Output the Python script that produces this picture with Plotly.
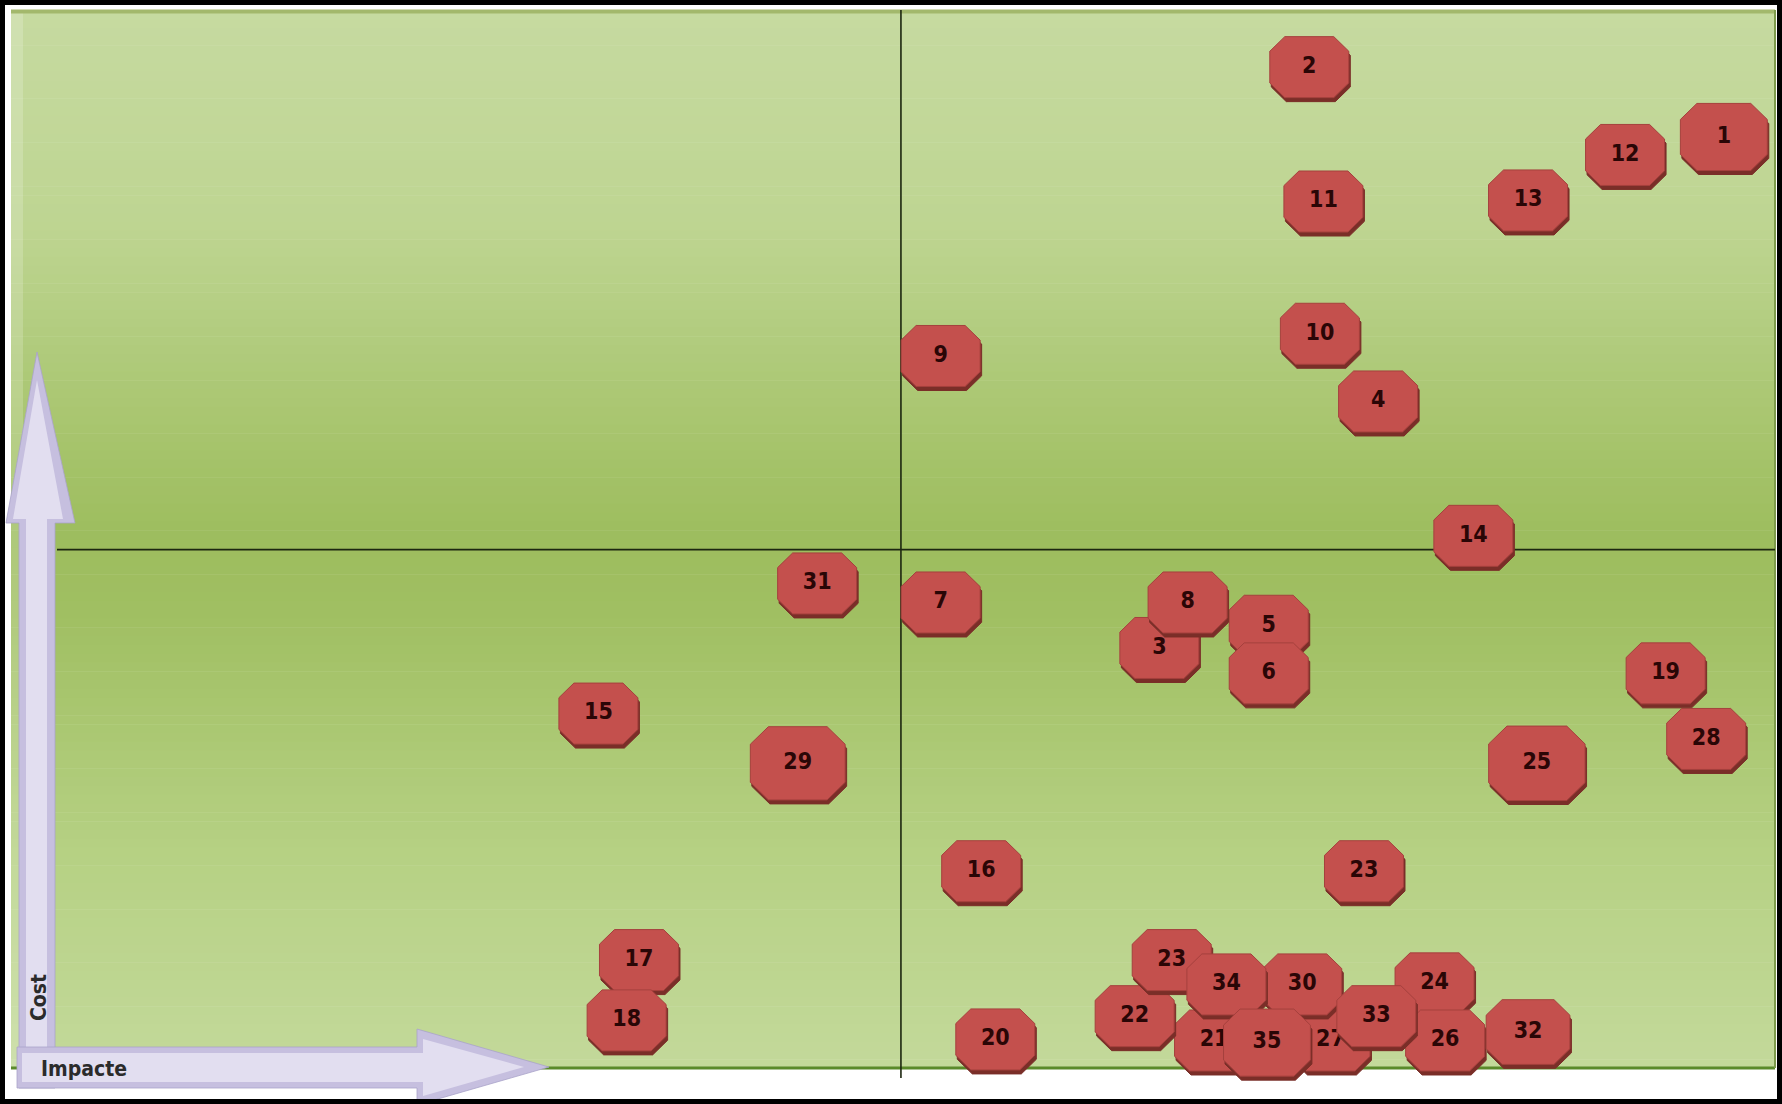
import plotly.graph_objects as go

# ---------------- data ----------------
labels = ["1", "2", "3", "4", "5", "6", "7", "8", "9", "10", "11", "12", "13", "14",
          "15", "16", "17", "18", "19", "20", "21", "22", "23", "23", "24", "25", "26",
          "27", "28", "29", "30", "31", "32", "33", "34", "35"]
impact = [97.1, 73.6, 65.1, 77.5, 71.3, 71.3, 52.7, 66.7, 52.7, 74.2, 74.4, 91.5, 86.0, 82.9,
          33.3, 55.0, 35.6, 34.9, 93.8, 55.8, 68.2, 63.7, 76.7, 65.8, 80.7, 86.5, 81.3,
          74.8, 96.1, 44.6, 73.2, 45.7, 86.0, 77.4, 68.9, 71.2]
cost = [88.0, 94.6, 39.7, 63.0, 41.8, 37.3, 44.0, 44.0, 67.3, 69.4, 81.9, 86.3, 82.0, 50.3,
        33.5, 18.6, 10.2, 4.5, 37.3, 2.7, 2.6, 4.9, 18.6, 10.2, 8.0, 28.8, 2.6,
        2.6, 31.1, 28.8, 7.9, 45.8, 3.4, 4.9, 7.9, 2.4]
impact_split = 50.45
cost_split = 49.0
x_title = "Impacte"
y_title = "Cost"

# ---------------- geometry / style ----------------
W, H = 1782, 1104
GX0, GX1 = 11, 1775      # green area in pixels
GY0, GY1 = 10, 1068
XR = [0, 100]
YR = [0, 100]
ux = (GX1 - GX0) / (XR[1] - XR[0])
uy = (GY1 - GY0) / (YR[1] - YR[0])
x_range = [XR[0] - GX0 / ux, XR[1] + (W - GX1) / ux]
y_range = [YR[0] - (H - GY1) / uy, YR[1] + GY0 / uy]

def px2data(px, py):
    return XR[0] + (px - GX0) / ux, YR[0] + (GY1 - py) / uy

def px2paper(px, py):
    return px / W, 1 - py / H

OCT_W, OCT_H = 79, 61                 # octagon size in px
size_scale = {0: 1.1, 25: 1.22, 29: 1.2, 32: 1.06, 35: 1.1}
FILL = "#c4504d"
EDGE = "#a5403d"
SHADOW = "#7a2e28"
FONT = "Liberation Sans Narrow, DejaVu Sans Condensed, sans-serif"

def octagon(cx, cy, s):
    a = OCT_W / 2 * s / ux
    b = OCT_H / 2 * s / uy
    fa, fb = 0.62, 0.52
    xs = [cx - fa * a, cx + fa * a, cx + a, cx + a, cx + fa * a, cx - fa * a, cx - a, cx - a, cx - fa * a]
    ys = [cy + b, cy + b, cy + fb * b, cy - fb * b, cy - b, cy - b, cy - fb * b, cy + fb * b, cy + b]
    return xs, ys

fig = go.Figure()

# background gradient bands
stops = [(0.0, (198, 218, 160)), (0.2, (190, 213, 146)), (0.42, (165, 195, 106)),
         (0.5, (157, 189, 94)), (0.57, (160, 191, 98)), (0.8, (182, 209, 132)), (1.0, (195, 217, 154))]

def col(t):
    for i in range(len(stops) - 1):
        t0, c0 = stops[i]
        t1, c1 = stops[i + 1]
        if t <= t1:
            f = (t - t0) / (t1 - t0)
            return "rgb(%d,%d,%d)" % tuple(round(c0[k] + f * (c1[k] - c0[k])) for k in range(3))
    return "rgb(%d,%d,%d)" % stops[-1][1]

shapes = []
NB = 120
for i in range(NB):
    t = (i + 0.5) / NB
    y_top = YR[1] - (YR[1] - YR[0]) * i / NB
    y_bot = YR[1] - (YR[1] - YR[0]) * (i + 1) / NB
    shapes.append(dict(type="rect", xref="x", yref="y", x0=XR[0], x1=XR[1], y0=y_bot - 0.05, y1=y_top,
                       fillcolor=col(t), line=dict(width=0), layer="below"))
# light left gloss strip
shapes.append(dict(type="rect", xref="x", yref="y", x0=XR[0], x1=XR[0] + 12 / ux, y0=YR[0], y1=YR[1],
                   fillcolor="rgba(255,255,255,0.18)", line=dict(width=0), layer="below"))
# edges of green area
shapes.append(dict(type="line", xref="x", yref="y", x0=XR[0], x1=XR[1], y0=YR[1] - 1.5 / uy, y1=YR[1] - 1.5 / uy,
                   line=dict(color="#a3b86c", width=4), layer="below"))
shapes.append(dict(type="line", xref="x", yref="y", x0=XR[0], x1=XR[1], y0=YR[0], y1=YR[0],
                   line=dict(color="#5a8a2a", width=3), layer="below"))
shapes.append(dict(type="line", xref="x", yref="y", x0=XR[1], x1=XR[1], y0=YR[0], y1=YR[1],
                   line=dict(color="#7d9a4c", width=2), layer="below"))
# quadrant lines
shapes.append(dict(type="line", xref="x", yref="y", x0=impact_split, x1=impact_split,
                   y0=YR[0] - 10 / uy, y1=YR[1], line=dict(color="#1c2610", width=1.6), layer="below"))
shapes.append(dict(type="line", xref="x", yref="y", x0=XR[0] + 46 / ux, x1=XR[1],
                   y0=cost_split, y1=cost_split, line=dict(color="#1c2610", width=1.6), layer="below"))

# arrows (decoration, pixel geometry -> data space so they sit above the background)
def path_from_px(pts):
    s = ""
    for i, (px, py) in enumerate(pts):
        x, y = px2data(px, py)
        s += ("M" if i == 0 else "L") + "%.5f,%.5f" % (x, y)
    return s + "Z"

v_arrow = [(37, 352), (75, 523), (55, 523), (55, 1088), (19, 1088), (19, 523), (6, 523)]
v_inner = [(37, 380), (63, 519), (47, 519), (47, 1084), (26, 1084), (26, 519), (13, 519)]
h_arrow = [(17, 1047), (417, 1047), (417, 1029), (549, 1067), (417, 1105), (417, 1088), (17, 1088)]
h_inner = [(22, 1053), (423, 1053), (423, 1039), (524, 1067), (423, 1096), (423, 1082), (22, 1082)]
for outer, inner in ((v_arrow, v_inner), (h_arrow, h_inner)):
    shapes.append(dict(type="path", xref="x", yref="y", path=path_from_px(outer),
                       fillcolor="#c6bfdf", line=dict(color="#aaa3c9", width=0.8), layer="below"))
    shapes.append(dict(type="path", xref="x", yref="y", path=path_from_px(inner),
                       fillcolor="#e2def0", line=dict(width=0), layer="below"))

# outer black frame
shapes.append(dict(type="rect", xref="paper", yref="paper", x0=0, x1=1, y0=0, y1=1,
                   line=dict(color="#000000", width=10), fillcolor="rgba(0,0,0,0)", layer="above"))

# octagons, drawn in order
for i, (lab, xv, yv) in enumerate(zip(labels, impact, cost)):
    s = size_scale.get(i, 1.0)
    sx, sy = octagon(xv + 1.5 / ux, yv - 4 / uy, s)
    fig.add_trace(go.Scatter(x=sx, y=sy, mode="lines", fill="toself", fillcolor=SHADOW,
                             line=dict(color=SHADOW, width=1), hoverinfo="skip", showlegend=False))
    ox, oy = octagon(xv, yv, s)
    fig.add_trace(go.Scatter(x=ox, y=oy, mode="lines", fill="toself", fillcolor=FILL,
                             line=dict(color=EDGE, width=1), hoverinfo="skip", showlegend=False))
    fig.add_trace(go.Scatter(x=[xv], y=[yv], mode="text", text=["<b>%s</b>" % lab],
                             textposition="middle center",
                             textfont=dict(family=FONT, size=23, color="#2a0606"),
                             hoverinfo="skip", showlegend=False))

ax, ay = px2paper(39, 998)
bx, by = px2paper(84, 1069)
annotations = [
    dict(text="<b>%s</b>" % y_title, xref="paper", yref="paper", x=ax, y=ay, showarrow=False,
         xanchor="center", yanchor="middle", textangle=-90,
         font=dict(family=FONT, size=21, color="#2b2b2b")),
    dict(text="<b>%s</b>" % x_title, xref="paper", yref="paper", x=bx, y=by, showarrow=False,
         xanchor="center", yanchor="middle",
         font=dict(family=FONT, size=21, color="#2b2b2b")),
]

fig.update_layout(
    width=W, height=H, autosize=False,
    margin=dict(l=0, r=0, t=0, b=0, pad=0),
    paper_bgcolor="white", plot_bgcolor="white",
    xaxis=dict(range=x_range, visible=False, fixedrange=True),
    yaxis=dict(range=y_range, visible=False, fixedrange=True),
    shapes=shapes, annotations=annotations, showlegend=False,
)

fig.write_html("out.html", config={"displayModeBar": False},
               post_script="document.body.style.margin='0';document.body.style.overflow='hidden';")
